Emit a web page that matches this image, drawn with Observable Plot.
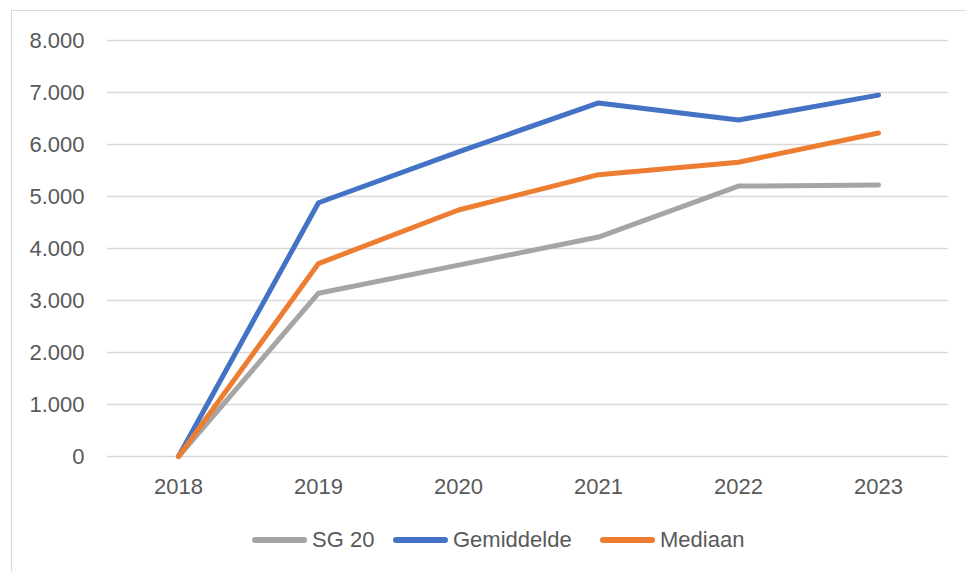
<!DOCTYPE html>
<html><head><meta charset="utf-8">
<script src="https://cdn.jsdelivr.net/npm/d3@7"></script>
<script src="https://cdn.jsdelivr.net/npm/@observablehq/plot@0.6"></script>
<style>
body{margin:0;background:#fff;font-family:"Liberation Sans",Arial,sans-serif;}
#wrap{position:relative;width:966px;height:572px;overflow:hidden;background:#fff;}
#frame{position:absolute;left:11px;top:10px;width:1000px;height:600px;border:1.5px solid #d9d9d9;box-sizing:border-box;}
#chart{position:absolute;left:0;top:0;}
#legend{position:absolute;top:0;left:0;font-size:22px;color:#595959;white-space:nowrap;}
#legend .item{position:absolute;top:527px;display:flex;align-items:center;}
#legend svg{margin-right:4px;}
</style>
</head><body>
<div id="wrap"><div id="frame"></div><div id="chart"></div><div id="legend"></div></div>
<script>
const years = [2018, 2019, 2020, 2021, 2022, 2023];
const seriesNames = ["SG 20", "Gemiddelde", "Mediaan"];
const seriesColors = ["#A5A5A5", "#4472C4", "#ED7D31"];
const sg20 = [0, 3140, 3680, 4220, 5200, 5220];
const gemiddelde = [0, 4880, 5860, 6800, 6470, 6950];
const mediaan = [0, 3710, 4740, 5420, 5660, 6220];
const yTicks = [0, 1000, 2000, 3000, 4000, 5000, 6000, 7000, 8000];

const valuesBySeries = [sg20, gemiddelde, mediaan];
const data = [];
seriesNames.forEach((s, i) => years.forEach((y, j) => data.push({series: s, year: y, value: valuesBySeries[i][j]})));

const nl = d3.formatLocale({decimal: ",", thousands: ".", grouping: [3], currency: ["€", ""]}).format(",");

const chart = Plot.plot({
  width: 966, height: 500,
  marginLeft: 107, marginRight: 18, marginTop: 40, marginBottom: 44,
  style: {fontSize: "22px", fontFamily: "'Liberation Sans', Arial, sans-serif", color: "#595959", background: "transparent", overflow: "visible"},
  x: {type: "point", domain: years, padding: 0.5, label: null, tickSize: 0, tickPadding: 22, tickFormat: d => String(d)},
  y: {domain: [0, 8000], ticks: yTicks, label: null, tickSize: 0, tickPadding: 23, tickFormat: nl},
  color: {domain: seriesNames, range: seriesColors},
  marks: [
    Plot.ruleY(yTicks, {stroke: "#d9d9d9", strokeWidth: 1.5}),
    Plot.line(data, {x: "year", y: "value", z: "series", stroke: "series", strokeWidth: 5, strokeLinecap: "round", strokeLinejoin: "round"})
  ]
});
document.getElementById("chart").appendChild(chart);

const legendLeft = [251, 392, 599];
const legend = document.getElementById("legend");
seriesNames.forEach((s, i) => {
  const item = document.createElement("div");
  item.className = "item";
  item.style.left = legendLeft[i] + "px";
  item.innerHTML = `<svg width="57" height="10"><line x1="4" y1="5" x2="53" y2="5" stroke="${seriesColors[i]}" stroke-width="6" stroke-linecap="round"/></svg><span>${s}</span>`;
  legend.appendChild(item);
});
</script>
</body></html>
